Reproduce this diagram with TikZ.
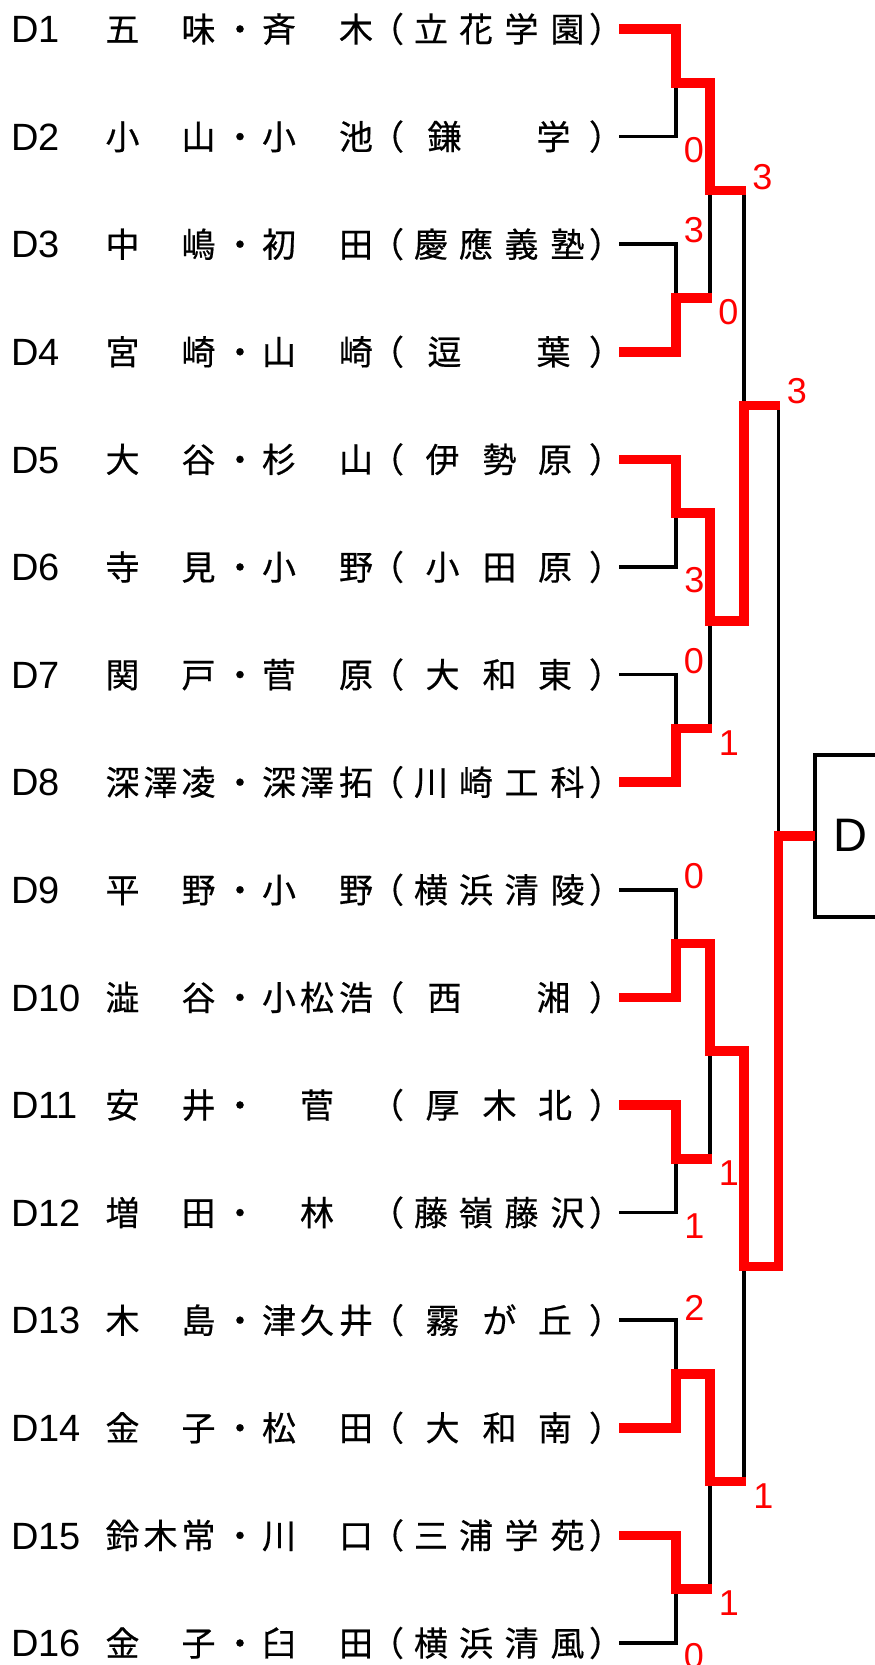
\documentclass[tikz,border=0pt]{standalone}
\usepackage{fontspec}
\setmainfont{Liberation Sans}
\newfontfamily\jpfont[FakeBold=0.5]{Noto Sans CJK JP}
\definecolor{bred}{RGB}{255,0,0}
\def\XsA{122.5}\def\XsB{160.5}\def\XsC{198.5}\def\Xdt{240}
\def\XgA{279}\def\XgB{317}\def\XgC{356}\def\Xop{387}\def\Xcp{606}
\def\XfA{431}\def\XfB{476}\def\XfC{521.5}\def\XfD{567.5}
\def\XtA{442.5}\def\XtB{499.5}\def\XtC{555}
\def\XwA{444.5}\def\XwB{553.5}
\tikzset{
  lab/.style={anchor=west, inner sep=0pt, font=\fontsize{38}{40}\selectfont, text height=27.2pt, text depth=0pt},
  kj/.style={anchor=center, inner sep=0pt, font=\jpfont\fontsize{34}{40}\selectfont, text height=29.9pt, text depth=4.1pt},
  score/.style={inner sep=0pt, text=bred, font=\fontsize{36}{40}\selectfont, text height=25.8pt, text depth=0pt},
  win/.style={draw=bred, line width=9.5pt},
  lose/.style={draw=black, line width=3.5pt},
}
\newcommand\entry[4]{%
  \pgfmathsetmacro\ry{29+(#1-1)*107.6}
  \node[lab] (lab#1) at (11,\ry) {#2};
  \foreach \xx/\cc [count=\k] in {#3} {\node[kj] (nm#1-\k) at (\xx,\ry) {\cc};}
  \foreach \xx/\cc [count=\k] in {#4} {\node[kj] (sc#1-\k) at (\xx,\ry) {\cc};}
  \coordinate (s#1) at (619,\ry);
}
\begin{document}
\begin{tikzpicture}[x=1pt,y=-1pt]
\useasboundingbox (0,0) rectangle (875,1665);
\entry{1}{D1}{\XsA/五,\XsC/味,\Xdt/・,\XgA/斉,\XgC/木,\Xop/（}{\XfA/立,\XfB/花,\XfC/学,\XfD/園,\Xcp/）}
\entry{2}{D2}{\XsA/小,\XsC/山,\Xdt/・,\XgA/小,\XgC/池,\Xop/（}{\XwA/鎌,\XwB/学,\Xcp/）}
\entry{3}{D3}{\XsA/中,\XsC/嶋,\Xdt/・,\XgA/初,\XgC/田,\Xop/（}{\XfA/慶,\XfB/應,\XfC/義,\XfD/塾,\Xcp/）}
\entry{4}{D4}{\XsA/宮,\XsC/崎,\Xdt/・,\XgA/山,\XgC/崎,\Xop/（}{\XwA/逗,\XwB/葉,\Xcp/）}
\entry{5}{D5}{\XsA/大,\XsC/谷,\Xdt/・,\XgA/杉,\XgC/山,\Xop/（}{\XtA/伊,\XtB/勢,\XtC/原,\Xcp/）}
\entry{6}{D6}{\XsA/寺,\XsC/見,\Xdt/・,\XgA/小,\XgC/野,\Xop/（}{\XtA/小,\XtB/田,\XtC/原,\Xcp/）}
\entry{7}{D7}{\XsA/関,\XsC/戸,\Xdt/・,\XgA/菅,\XgC/原,\Xop/（}{\XtA/大,\XtB/和,\XtC/東,\Xcp/）}
\entry{8}{D8}{\XsA/深,\XsB/澤,\XsC/凌,\Xdt/・,\XgA/深,\XgB/澤,\XgC/拓,\Xop/（}{\XfA/川,\XfB/崎,\XfC/工,\XfD/科,\Xcp/）}
\entry{9}{D9}{\XsA/平,\XsC/野,\Xdt/・,\XgA/小,\XgC/野,\Xop/（}{\XfA/横,\XfB/浜,\XfC/清,\XfD/陵,\Xcp/）}
\entry{10}{D10}{\XsA/澁,\XsC/谷,\Xdt/・,\XgA/小,\XgB/松,\XgC/浩,\Xop/（}{\XwA/西,\XwB/湘,\Xcp/）}
\entry{11}{D11}{\XsA/安,\XsC/井,\Xdt/・,\XgB/菅,\Xop/（}{\XtA/厚,\XtB/木,\XtC/北,\Xcp/）}
\entry{12}{D12}{\XsA/増,\XsC/田,\Xdt/・,\XgB/林,\Xop/（}{\XfA/藤,\XfB/嶺,\XfC/藤,\XfD/沢,\Xcp/）}
\entry{13}{D13}{\XsA/木,\XsC/島,\Xdt/・,\XgA/津,\XgB/久,\XgC/井,\Xop/（}{\XtA/霧,\XtB/が,\XtC/丘,\Xcp/）}
\entry{14}{D14}{\XsA/金,\XsC/子,\Xdt/・,\XgA/松,\XgC/田,\Xop/（}{\XtA/大,\XtB/和,\XtC/南,\Xcp/）}
\entry{15}{D15}{\XsA/鈴,\XsB/木,\XsC/常,\Xdt/・,\XgA/川,\XgC/口,\Xop/（}{\XfA/三,\XfB/浦,\XfC/学,\XfD/苑,\Xcp/）}
\entry{16}{D16}{\XsA/金,\XsC/子,\Xdt/・,\XgA/臼,\XgC/田,\Xop/（}{\XfA/横,\XfB/浜,\XfC/清,\XfD/風,\Xcp/）}
% junction coordinates
\coordinate (a1) at (676,82.8);  \coordinate (a2) at (676,298);
\coordinate (a3) at (676,513.2); \coordinate (a4) at (676,728.4);
\coordinate (a5) at (676,943.6); \coordinate (a6) at (676,1158.8);
\coordinate (a7) at (676,1374);  \coordinate (a8) at (676,1589.2);
\coordinate (b1) at (710,190.4); \coordinate (b2) at (710,620.8);
\coordinate (b3) at (710,1051.2);\coordinate (b4) at (710,1481.6);
\coordinate (c1) at (744,405.6); \coordinate (c2) at (744,1266.4);
\coordinate (d) at (778.5,836);
% final box
\node[draw, line width=4pt, minimum width=130pt, minimum height=162pt, inner sep=0pt, outer sep=0pt, anchor=west] (final) at (814.5,836) {};
\node[inner sep=0pt, font=\fontsize{47}{50}\selectfont, text height=33.7pt, text depth=0pt] (finalD) at (850,835) {D};
% losing lines
\draw[lose] (s2) -| (a1);
\draw[lose] (s3) -| (a2);
\draw[lose] (s6) -| (a3);
\draw[lose] (s7) -| (a4);
\draw[lose] (s9) -| (a5);
\draw[lose] (s12) -| (a6);
\draw[lose] (s13) -| (a7);
\draw[lose] (s16) -| (a8);
\draw[lose] (b1) -- (b1 |- a2);
\draw[lose] (b2) -- (b2 |- a4);
\draw[lose] (b3) -- (b3 |- a6);
\draw[lose] (b4) -- (b4 |- a8);
\draw[lose] (c1) -- (c1 |- b1);
\draw[lose] (c2) -- (c2 |- b4);
\draw[lose] (d) -- (d |- c1);
% winning lines
\draw[win] (s1) -| (a1) -| (b1) -- ++(35.75,0);
\draw[win] (s4) -| (a2) -- ++(35.75,0);
\draw[win] (s5) -| (a3) -| (b2) -| (c1) -- ++(36.25,0);
\draw[win] (s8) -| (a4) -- ++(35.75,0);
\draw[win] (s10) -| (a5) -| (b3) -| (c2) -| (d) -- (final.west);
\draw[win] (s11) -| (a6) -- ++(35.75,0);
\draw[win] (s14) -| (a7) -| (b4) -- ++(35.75,0);
\draw[win] (s15) -| (a8) -- ++(35.75,0);
% scores
\node[score] (p1) at (694,150) {0};
\node[score] (p2) at (694,230) {3};
\node[score] (p3) at (728.5,311.5) {0};
\node[score] (p4) at (762.5,176.5) {3};
\node[score] (p5) at (797,391) {3};
\node[score] (p6) at (694.5,580) {3};
\node[score] (p7) at (694,661) {0};
\node[score] (p8) at (729,742.5) {1};
\node[score] (p9) at (694,876) {0};
\node[score] (p10) at (729,1172.5) {1};
\node[score] (p11) at (694.5,1226) {1};
\node[score] (p12) at (694.5,1307.5) {2};
\node[score] (p13) at (763.5,1495.5) {1};
\node[score] (p14) at (729,1602.5) {1};
\node[score] (p15) at (694,1656) {0};
\end{tikzpicture}
\end{document}
